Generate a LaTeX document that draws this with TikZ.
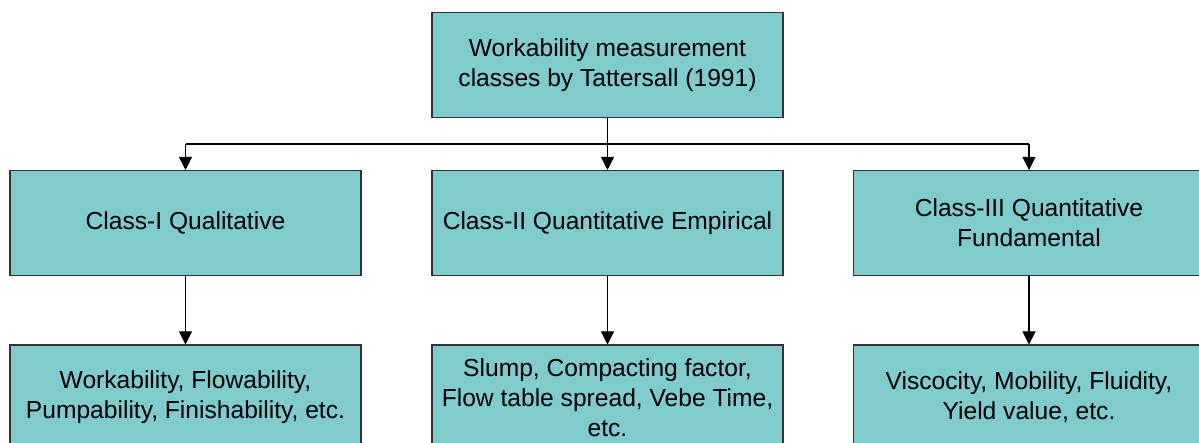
\documentclass[tikz,border=0pt]{standalone}
\usepackage{fontspec}
\setmainfont{Liberation Sans}
\usetikzlibrary{arrows.meta}
\definecolor{boxteal}{RGB}{128,203,204}
\definecolor{boxline}{RGB}{50,50,50}

\begin{document}
\begin{tikzpicture}[
	box/.style = {draw = boxline, line width = 0.6pt, fill = boxteal,
		minimum width = 7.02cm, minimum height = 2.1cm, inner sep = 0pt,
		align = center, font = \fontsize{14}{17}\selectfont},
	link/.style = {line width = 0.6pt},
	tip/.style = {link, -{Triangle[width = 0.26cm, length = 0.26cm]}}]
\useasboundingbox (0, 0) rectangle (23.98, 8.86);

\node[box] (top) at (12.15, 7.56)
	{Workability measurement\\classes by Tattersall (1991)};

\node[box] (qual) at (3.71, 4.4) {Class-I Qualitative};
\node[box] (emp) at (12.15, 4.4) {Class-II Quantitative Empirical};
\node[box] (fund) at (20.58, 4.4) {Class-III Quantitative\\Fundamental};

\node[box] (qualex) at (3.71, 0.91)
	{Workability, Flowability,\\Pumpability, Finishability, etc.};
\node[box] (empex) at (12.15, 0.91)
	{Slump, Compacting factor,\\Flow table spread, Vebe Time,\\etc.};
\node[box] (fundex) at (20.58, 0.91)
	{Viscocity, Mobility, Fluidity,\\Yield value, etc.};

\coordinate (bus) at (0, 5.98);

\draw[link] (qual.north |- bus) -- (fund.north |- bus);
\draw[tip] (top.south) -- (emp.north);
\draw[tip] (qual.north |- bus) -- (qual.north);
\draw[tip] (fund.north |- bus) -- (fund.north);

\draw[tip] (qual.south) -- (qualex.north);
\draw[tip] (emp.south) -- (empex.north);
\draw[tip] (fund.south) -- (fundex.north);
\end{tikzpicture}
\end{document}
